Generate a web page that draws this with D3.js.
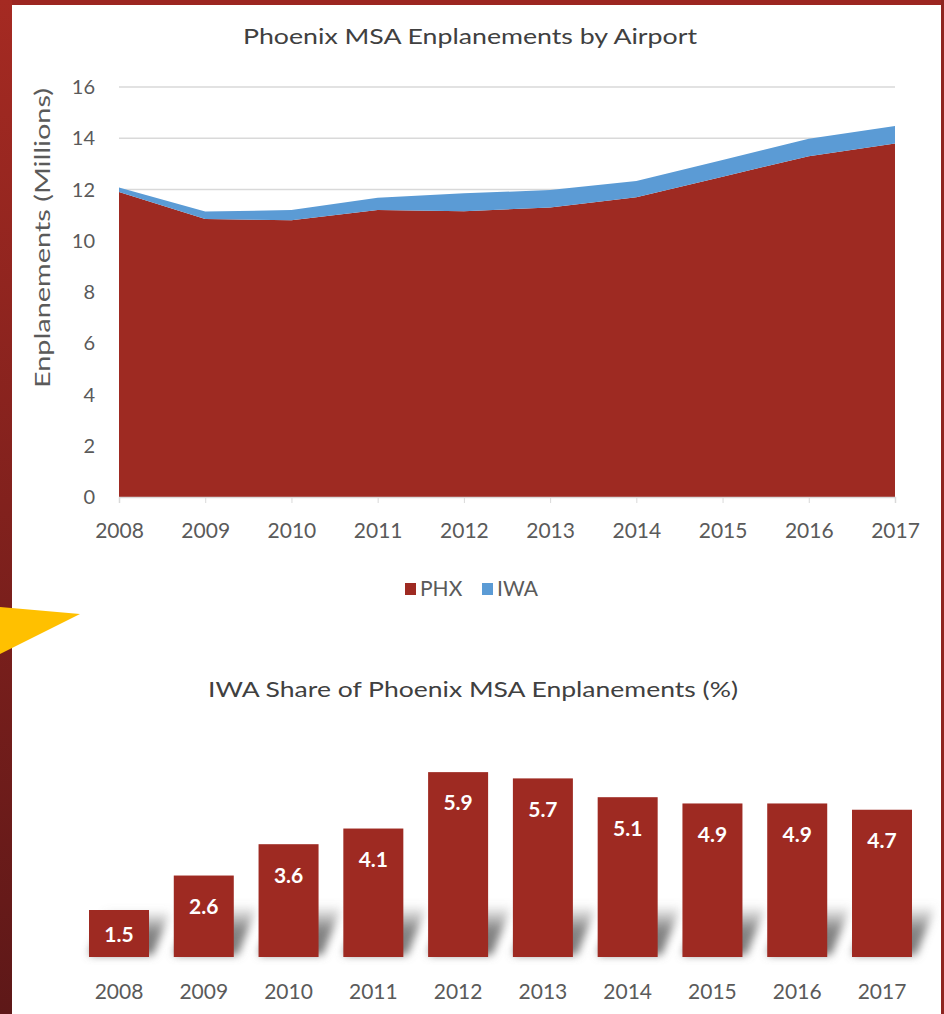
<!DOCTYPE html>
<html>
<head>
<meta charset="utf-8">
<script src="https://cdn.jsdelivr.net/npm/d3@7"></script>
<style>
  html, body { margin: 0; padding: 0; background: #ffffff; }
  svg { display: block; }
</style>
</head>
<body>
<svg id="chart" width="944" height="1014"></svg>
<script>
// ---- data ----
const years = [2008, 2009, 2010, 2011, 2012, 2013, 2014, 2015, 2016, 2017];
const phx = [11.9, 10.85, 10.8, 11.2, 11.15, 11.3, 11.7, 12.5, 13.3, 13.8];
const iwa = [0.18, 0.29, 0.40, 0.48, 0.70, 0.68, 0.63, 0.65, 0.68, 0.68];
const share = [1.5, 2.6, 3.6, 4.1, 5.9, 5.7, 5.1, 4.9, 4.9, 4.7];
const yTicks = [0, 2, 4, 6, 8, 10, 12, 14, 16];
const seriesNames = ["PHX", "IWA"];

const RED = "#9e2a22";
const BLUE = "#5b9bd5";
const TEXT = "#5a5a5a";
const FONT = "Lato, 'Open Sans', sans-serif";

const svg = d3.select("#chart");
const defs = svg.append("defs");

// frame
const lg = defs.append("linearGradient").attr("id", "strip").attr("x1", 0).attr("y1", 0).attr("x2", 0).attr("y2", 1);
lg.append("stop").attr("offset", 0).attr("stop-color", "#a52a22");
lg.append("stop").attr("offset", 1).attr("stop-color", "#5e1818");
svg.append("rect").attr("x", 0).attr("y", 0).attr("width", 944).attr("height", 1014).attr("fill", "#ffffff");
svg.append("rect").attr("x", 0).attr("y", 0).attr("width", 944).attr("height", 5).attr("fill", "#9c2621");
svg.append("rect").attr("x", 0).attr("y", 0).attr("width", 12).attr("height", 1014).attr("fill", "url(#strip)");
svg.append("rect").attr("x", 941).attr("y", 0).attr("width", 3).attr("height", 1014).attr("fill", "#8e2420");
svg.append("polygon").attr("points", "0,607 80,614 0,654").attr("fill", "#ffc000");

// ---------------- Top chart: stacked area ----------------
const x1 = d3.scalePoint().domain(years).range([119, 895]);
const y1 = d3.scaleLinear().domain([0, 16]).range([497, 87]);

svg.append("text").attr("x", 470).attr("y", 44).attr("text-anchor", "middle")
  .attr("font-family", FONT).attr("font-size", 22).attr("fill", "#404040")
  .attr("textLength", 454).attr("lengthAdjust", "spacingAndGlyphs")
  .text("Phoenix MSA Enplanements by Airport");

// gridlines
svg.append("g").selectAll("line").data(yTicks.filter(d => d > 0)).join("line")
  .attr("x1", 119).attr("x2", 895)
  .attr("y1", d => y1(d)).attr("y2", d => y1(d))
  .attr("stroke", "#d9d9d9").attr("stroke-width", 1.5);

const table = years.map((yr, i) => ({ year: yr, PHX: phx[i], IWA: iwa[i] }));
const stacked = d3.stack().keys(seriesNames)(table);
const area = d3.area()
  .x(d => x1(d.data.year))
  .y0(d => y1(d[0]))
  .y1(d => y1(d[1]));
svg.append("g").selectAll("path").data(stacked).join("path")
  .attr("d", area)
  .attr("fill", (d, i) => i === 0 ? RED : BLUE);

// y axis labels
svg.append("g").selectAll("text").data(yTicks).join("text")
  .attr("x", 95).attr("y", d => y1(d)).attr("dy", "0.35em")
  .attr("text-anchor", "end").attr("font-family", FONT).attr("font-size", 20)
  .attr("fill", TEXT).text(d => d);

svg.append("text")
  .attr("transform", "translate(50,238) rotate(-90)")
  .attr("text-anchor", "middle").attr("font-family", FONT).attr("font-size", 21)
  .attr("fill", TEXT).attr("textLength", 300).attr("lengthAdjust", "spacingAndGlyphs")
  .text("Enplanements (Millions)");

// x axis
const xAxis = svg.append("g").attr("transform", "translate(0,497)")
  .call(d3.axisBottom(x1).tickSize(6).tickPadding(20));
xAxis.select(".domain").attr("stroke", "#d9d9d9").attr("stroke-width", 1.5);
xAxis.selectAll(".tick line").attr("stroke", "#d9d9d9");
xAxis.selectAll(".tick text").attr("font-family", FONT).attr("font-size", 21).attr("fill", TEXT);

// legend
const legendItems = [
  { name: "PHX", color: RED, x: 405 },
  { name: "IWA", color: BLUE, x: 482 }
];
const leg = svg.append("g").selectAll("g").data(legendItems).join("g")
  .attr("transform", d => `translate(${d.x},589)`);
leg.append("rect").attr("x", 0).attr("y", -6).attr("width", 11).attr("height", 12).attr("fill", d => d.color);
leg.append("text").attr("x", 15).attr("y", 0).attr("dy", "0.35em")
  .attr("font-family", FONT).attr("font-size", 21).attr("fill", TEXT).text(d => d.name);

// ---------------- Bottom chart: bars ----------------
const x2 = d3.scalePoint().domain(years).range([119, 882]);
const barW = 60;
const y2 = d3.scaleLinear().domain([0, 6]).range([957, 769]);

svg.append("text").attr("x", 473).attr("y", 697).attr("text-anchor", "middle")
  .attr("font-family", FONT).attr("font-size", 22).attr("fill", "#404040")
  .attr("textLength", 530).attr("lengthAdjust", "spacingAndGlyphs")
  .text("IWA Share of Phoenix MSA Enplanements (%)");

// shadow
const blur = defs.append("filter").attr("id", "blur").attr("x", "-50%").attr("y", "-50%").attr("width", "200%").attr("height", "200%");
blur.append("feGaussianBlur").attr("stdDeviation", 4);
const sg = defs.append("linearGradient").attr("id", "shadeGrad").attr("x1", 0).attr("y1", 0).attr("x2", 0).attr("y2", 1);
sg.append("stop").attr("offset", 0).attr("stop-color", "#777").attr("stop-opacity", 0);
sg.append("stop").attr("offset", 0.5).attr("stop-color", "#777").attr("stop-opacity", 0.9);
sg.append("stop").attr("offset", 1).attr("stop-color", "#777").attr("stop-opacity", 1);

const shadowH = 50;
svg.append("g").attr("filter", "url(#blur)").selectAll("path").data(years).join("path")
  .attr("d", (d, i) => {
    const l = x2(d) - barW / 2, r = x2(d) + barW / 2, b = y2(0) - 2;
    const top = Math.max(y2(share[i]), b - shadowH);
    const off = 20 * (b - top) / shadowH;
    return `M${l},${b} L${r + 4},${b} L${r + off + 4},${top} L${l + off},${top} Z`;
  })
  .attr("fill", "url(#shadeGrad)");

svg.append("g").selectAll("rect").data(share).join("rect")
  .attr("x", (d, i) => x2(years[i]) - barW / 2)
  .attr("y", d => y2(d))
  .attr("width", barW)
  .attr("height", d => y2(0) - y2(d))
  .attr("fill", RED);

svg.append("g").selectAll("text").data(share).join("text")
  .attr("x", (d, i) => x2(years[i]))
  .attr("y", d => Math.min(y2(d) + 31, (y2(d) + y2(0)) / 2 + 1))
  .attr("dy", "0.35em")
  .attr("text-anchor", "middle").attr("font-family", FONT).attr("font-weight", "bold")
  .attr("font-size", 21).attr("fill", "#ffffff")
  .text(d => d.toFixed(1));

svg.append("g").selectAll("text").data(years).join("text")
  .attr("x", d => x2(d)).attr("y", 992).attr("dy", "0.35em")
  .attr("text-anchor", "middle").attr("font-family", FONT).attr("font-size", 21)
  .attr("fill", TEXT).text(d => d);
</script>
</body>
</html>
